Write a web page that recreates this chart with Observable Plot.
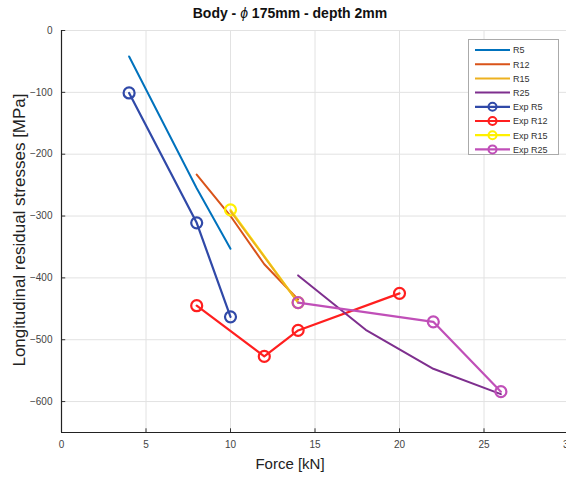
<!DOCTYPE html>
<html><head><meta charset="utf-8">
<script src="https://cdn.jsdelivr.net/npm/d3@7"></script>
<script src="https://cdn.jsdelivr.net/npm/@observablehq/plot@0.6"></script>
<style>
body{margin:0;background:#fff;font-family:Arial,"Liberation Sans",sans-serif;}
#wrap{position:relative;width:566px;height:479px;overflow:hidden;background:#fff;}
#title{position:absolute;left:0;width:580px;top:5px;text-align:center;font-weight:bold;font-size:14px;color:#111;}
#ylab{position:absolute;left:20px;top:230px;transform:translate(-50%,-50%) rotate(-90deg);white-space:nowrap;font-size:17px;color:#222;}
#xlab{position:absolute;left:0;width:580px;top:455px;text-align:center;font-size:15px;color:#222;}
#legend{position:absolute;left:468px;top:39px;}
</style></head><body>
<div id="wrap">
<div id="chart"></div>
<div id="title">Body - <i style="font-weight:normal">ϕ</i> 175mm - depth 2mm</div>
<div id="ylab">Longitudinal residual stresses [MPa]</div>
<div id="xlab">Force [kN]</div>
<div id="legend"></div>
</div>
<script>
// Model curves
const r5Force = [4, 8, 10];
const r5Stress = [-42, -255, -353];
const r12Force = [8, 10, 12, 14];
const r12Stress = [-233, -300, -378, -435];
const r15Force = [10, 12, 14];
const r15Stress = [-292, -366, -440];
const r25Force = [14, 18, 22, 26];
const r25Stress = [-396, -484, -547, -588];
// Experimental
const expR5Force = [4, 8, 10];
const expR5Stress = [-101, -311, -463];
const expR12Force = [8, 12, 14, 20];
const expR12Stress = [-445, -527, -485, -425];
const expR15Force = [10, 14];
const expR15Stress = [-290, -440];
const expR25Force = [14, 22, 26];
const expR25Stress = [-440, -471, -584];

const xTicks = [0, 5, 10, 15, 20, 25, 30];
const yTicks = [0, -100, -200, -300, -400, -500, -600];

const series = [
  {name: "R5", f: r5Force, s: r5Stress, color: "#0072BD", exp: false},
  {name: "R12", f: r12Force, s: r12Stress, color: "#D95319", exp: false},
  {name: "R15", f: r15Force, s: r15Stress, color: "#EDB120", exp: false},
  {name: "R25", f: r25Force, s: r25Stress, color: "#7E2F8E", exp: false},
  {name: "Exp R5", f: expR5Force, s: expR5Stress, color: "#3049A8", exp: true},
  {name: "Exp R12", f: expR12Force, s: expR12Stress, color: "#FF1F1F", exp: true},
  {name: "Exp R15", f: expR15Force, s: expR15Stress, color: "#FFF000", exp: true},
  {name: "Exp R25", f: expR25Force, s: expR25Stress, color: "#C04FB8", exp: true}
];
const rows = s => s.f.map((x, i) => ({x, y: s.s[i]}));

const order = ["Exp R5", "R5", "Exp R12", "R12", "Exp R15", "R15", "R25", "Exp R25"];
const lineMarks = [];
for (const n of order) {
  const s = series.find(d => d.name === n);
  lineMarks.push(Plot.line(rows(s), {x: "x", y: "y", stroke: s.color, strokeWidth: s.exp ? 2.2 : 2}));
  if (s.exp) lineMarks.push(Plot.dot(rows(s), {x: "x", y: "y", stroke: s.color, r: 5.5, strokeWidth: 2.2, fill: "none"}));
}

const chart = Plot.plot({
  width: 566, height: 479,
  marginLeft: 61, marginTop: 30, marginBottom: 47, marginRight: 0,
  x: {domain: [0, 30], range: [61, 568]},
  y: {domain: [-650, 0]},
  style: {fontFamily: "Arial, 'Liberation Sans', sans-serif", fontSize: "10px", color: "#444", background: "transparent"},
  marks: [
    Plot.gridX(xTicks, {stroke: "#e2e2e2", strokeOpacity: 1}),
    Plot.gridY(yTicks, {stroke: "#e2e2e2", strokeOpacity: 1}),
    Plot.axisX(xTicks, {tickSize: 0, tickPadding: 8, label: null}),
    Plot.axisY(yTicks, {tickSize: 0, tickPadding: 9, label: null}),
    Plot.ruleX(xTicks, {x: d => d, y1: -650, y2: -644, stroke: "#333"}),
    Plot.ruleY(yTicks, {y: d => d, x1: 0, x2: 0.25, stroke: "#333"}),
    Plot.ruleX([0], {stroke: "#222", strokeWidth: 1.2}),
    Plot.ruleY([-650], {stroke: "#222", strokeWidth: 1.2}),
    ...lineMarks
  ]
});
document.getElementById("chart").appendChild(chart);

// Legend
const lw = 91, lh = 116;
const leg = d3.select("#legend").append("svg").attr("width", lw).attr("height", lh);
leg.append("rect").attr("x", 0.5).attr("y", 0.5).attr("width", lw - 1).attr("height", lh - 1)
  .attr("fill", "#fff").attr("stroke", "#aaa");
series.forEach((s, i) => {
  const y = 11 + i * 14.2;
  const g = leg.append("g");
  g.append("line").attr("x1", 7).attr("x2", 42).attr("y1", y).attr("y2", y)
    .attr("stroke", s.color).attr("stroke-width", s.exp ? 2.2 : 2);
  if (s.exp) g.append("circle").attr("cx", 24.5).attr("cy", y).attr("r", 4).attr("fill", "none")
    .attr("stroke", s.color).attr("stroke-width", 2);
  g.append("text").attr("x", 45).attr("y", y + 3.3).attr("font-size", 9)
    .attr("font-family", "Arial, 'Liberation Sans', sans-serif").attr("fill", "#333").text(s.name);
});
</script>
</body></html>
